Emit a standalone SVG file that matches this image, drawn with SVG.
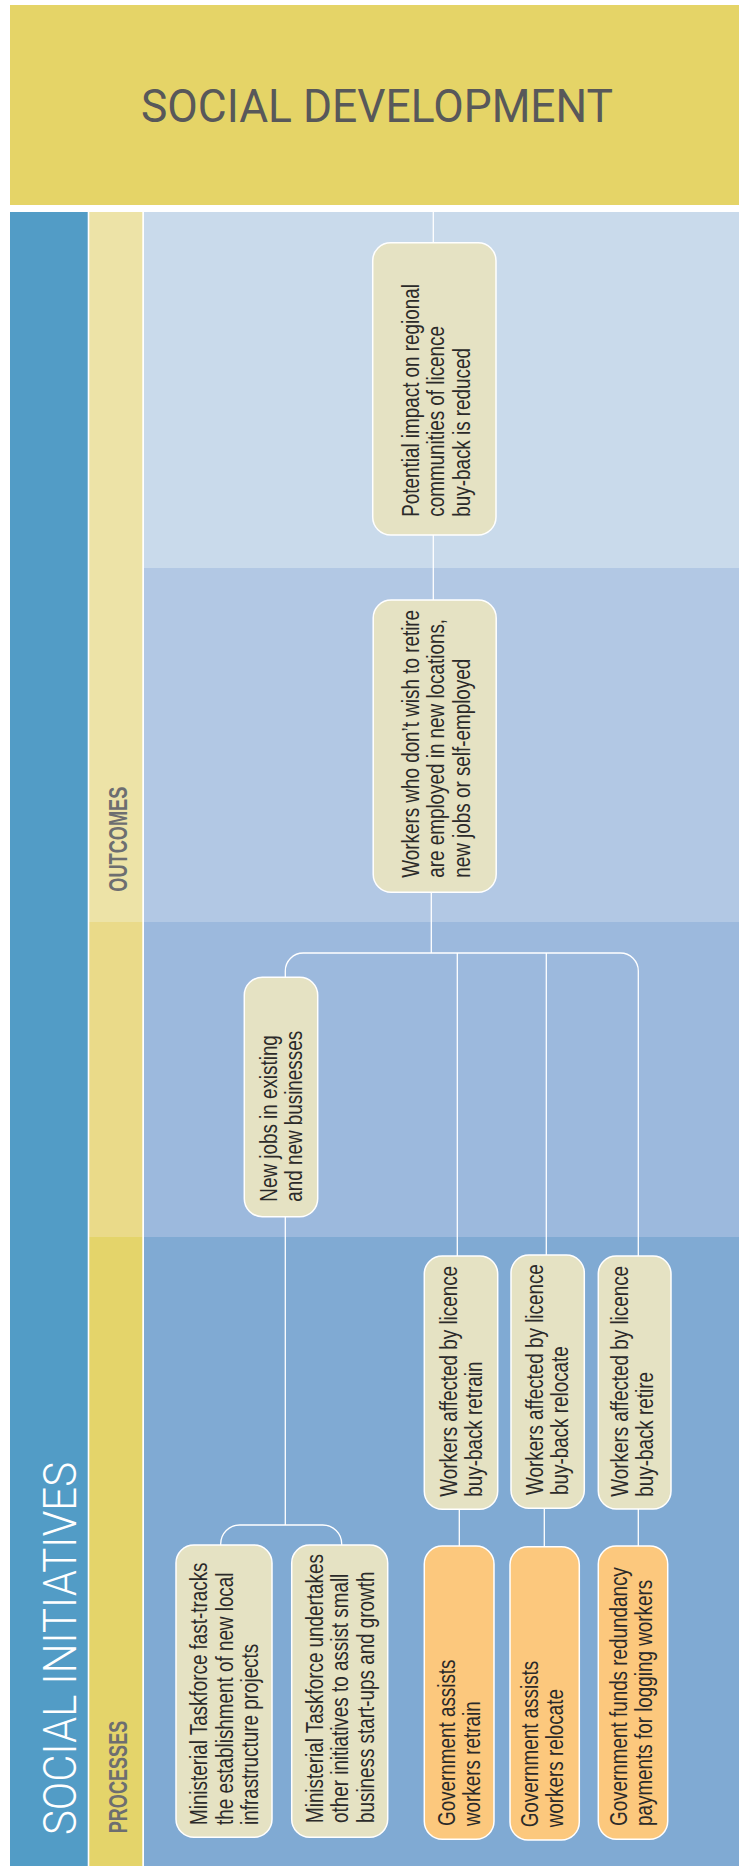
<svg xmlns="http://www.w3.org/2000/svg" width="739" height="1866" viewBox="0 0 739 1866">
<defs>
<style>
.beige{fill:#E5E2C3;stroke:#FFFFFF;stroke-width:1.5}
.orange{fill:#FCC87D;stroke:#FFFFFF;stroke-width:1.5}
.ntext{font-family:"Liberation Sans",Arial,sans-serif;font-size:23px;fill:#2B2A29}
.conn{stroke:#FFFFFF;stroke-width:1.3;fill:none}
.lane{font-family:"Liberation Sans",Arial,sans-serif;font-weight:bold;font-size:26px;fill:#6D6E70}
</style>
</defs>
<rect x="0" y="0" width="739" height="1866" fill="#FFFFFF"/>
<g id="header">
<rect x="10" y="5" width="729" height="200" fill="#E5D467"/>
<text x="377" y="122" text-anchor="middle" font-family="Roboto,'Liberation Sans',sans-serif" font-weight="400" font-size="46" fill="#58585A" textLength="472" lengthAdjust="spacingAndGlyphs">SOCIAL DEVELOPMENT</text>
</g>
<g id="lanes">
<rect x="10" y="212" width="77.7" height="1654" fill="#529CC6"/>
<rect x="89.3" y="212" width="53" height="710" fill="#EDE3A7"/>
<rect x="89.3" y="922" width="53" height="315" fill="#EADA89"/>
<rect x="89.3" y="1237" width="53" height="629" fill="#E4D46A"/>
<rect x="144" y="212" width="595" height="356" fill="#C9DAEB"/>
<rect x="144" y="568" width="595" height="354" fill="#B2C8E4"/>
<rect x="144" y="922" width="595" height="315" fill="#9CB9DD"/>
<rect x="144" y="1237" width="595" height="629" fill="#80AAD3"/>
<text transform="translate(76,1835) rotate(-90)" font-family="Roboto,'Liberation Sans',sans-serif" font-weight="300" font-size="46" fill="#FFFFFF" textLength="373" lengthAdjust="spacingAndGlyphs">SOCIAL INITIATIVES</text>
<text class="lane" transform="translate(126.7,1833.3) rotate(-90)" textLength="112.6" lengthAdjust="spacingAndGlyphs">PROCESSES</text>
<text class="lane" transform="translate(126.7,891.7) rotate(-90)" textLength="105" lengthAdjust="spacingAndGlyphs">OUTCOMES</text>
</g>
<g id="connectors">
<path class="conn" d="M433.3,212 V242.7"/>
<path class="conn" d="M433.3,535 V600"/>
<path class="conn" d="M431.3,892.3 V953"/>
<path class="conn" d="M285.3,977.3 V971 A18,18 0 0 1 303.3,953 H620.3 A18,18 0 0 1 638.3,971 V1256"/>
<path class="conn" d="M457.3,953 V1256"/>
<path class="conn" d="M546.3,953 V1255"/>
<path class="conn" d="M285.3,1216.7 V1525"/>
<path class="conn" d="M220.7,1545 V1544 A19,19 0 0 1 239.7,1525 H322.7 A19,19 0 0 1 341.7,1544 V1545"/>
<path class="conn" d="M459.3,1509.3 V1546"/>
<path class="conn" d="M544.3,1508.3 V1546.7"/>
<path class="conn" d="M638.3,1509 V1546"/>
</g>
<g id="node-potential-impact">
<rect class="beige" x="372.7" y="242.7" width="123.3" height="292.3" rx="18"/>
<text class="ntext" transform="translate(418.5,516.7) rotate(-90) scale(0.82,1)"><tspan x="0" y="0">Potential impact on regional</tspan><tspan x="0" y="26">communities of licence</tspan><tspan x="0" y="52">buy-back is reduced</tspan></text>
</g>
<g id="node-workers-employed">
<rect class="beige" x="373.2" y="600" width="123" height="292.3" rx="18"/>
<text class="ntext" transform="translate(418.5,877.7) rotate(-90) scale(0.82,1)"><tspan x="0" y="0">Workers who don’t wish to retire</tspan><tspan x="0" y="26">are employed in new locations,</tspan><tspan x="0" y="52">new jobs or self-employed</tspan></text>
</g>
<g id="node-new-jobs">
<rect class="beige" x="244.3" y="977.3" width="73.4" height="239.4" rx="18"/>
<text class="ntext" transform="translate(276.7,1201.7) rotate(-90) scale(0.82,1)"><tspan x="0" y="0">New jobs in existing</tspan><tspan x="0" y="25">and new businesses</tspan></text>
</g>
<g id="node-affected-retrain">
<rect class="beige" x="424.3" y="1256" width="73.4" height="253.3" rx="18"/>
<text class="ntext" transform="translate(456.7,1496.7) rotate(-90) scale(0.82,1)"><tspan x="0" y="0">Workers affected by licence</tspan><tspan x="0" y="25">buy-back retrain</tspan></text>
</g>
<g id="node-affected-relocate">
<rect class="beige" x="511" y="1255" width="73.3" height="253.3" rx="18"/>
<text class="ntext" transform="translate(543.3,1495) rotate(-90) scale(0.82,1)"><tspan x="0" y="0">Workers affected by licence</tspan><tspan x="0" y="25">buy-back relocate</tspan></text>
</g>
<g id="node-affected-retire">
<rect class="beige" x="598.3" y="1256" width="72.7" height="253" rx="18"/>
<text class="ntext" transform="translate(628.3,1496.7) rotate(-90) scale(0.82,1)"><tspan x="0" y="0">Workers affected by licence</tspan><tspan x="0" y="25">buy-back retire</tspan></text>
</g>
<g id="node-gov-retrain">
<rect class="orange" x="424.3" y="1546" width="69.7" height="293.3" rx="18"/>
<text class="ntext" transform="translate(455,1826) rotate(-90) scale(0.82,1)"><tspan x="0" y="0">Government assists</tspan><tspan x="0" y="25">workers retrain</tspan></text>
</g>
<g id="node-gov-relocate">
<rect class="orange" x="510" y="1546.7" width="69.3" height="293.3" rx="18"/>
<text class="ntext" transform="translate(538.3,1827.3) rotate(-90) scale(0.82,1)"><tspan x="0" y="0">Government assists</tspan><tspan x="0" y="25">workers relocate</tspan></text>
</g>
<g id="node-gov-redundancy">
<rect class="orange" x="598.3" y="1546" width="69.4" height="293.3" rx="18"/>
<text class="ntext" transform="translate(626.7,1826) rotate(-90) scale(0.82,1)"><tspan x="0" y="0">Government funds redundancy</tspan><tspan x="0" y="25">payments for logging workers</tspan></text>
</g>
<g id="node-taskforce-infrastructure">
<rect class="beige" x="176" y="1545" width="96" height="292.3" rx="18"/>
<text class="ntext" transform="translate(207.3,1825) rotate(-90) scale(0.82,1)"><tspan x="0" y="0">Ministerial Taskforce fast-tracks</tspan><tspan x="0" y="25.5">the establishment of new local</tspan><tspan x="0" y="51">infrastructure projects</tspan></text>
</g>
<g id="node-taskforce-business">
<rect class="beige" x="291.7" y="1545" width="96" height="292.3" rx="18"/>
<text class="ntext" transform="translate(322.7,1823) rotate(-90) scale(0.82,1)"><tspan x="0" y="0">Ministerial Taskforce undertakes</tspan><tspan x="0" y="25.5">other initiatives to assist small</tspan><tspan x="0" y="51">business start-ups and growth</tspan></text>
</g>
</svg>
